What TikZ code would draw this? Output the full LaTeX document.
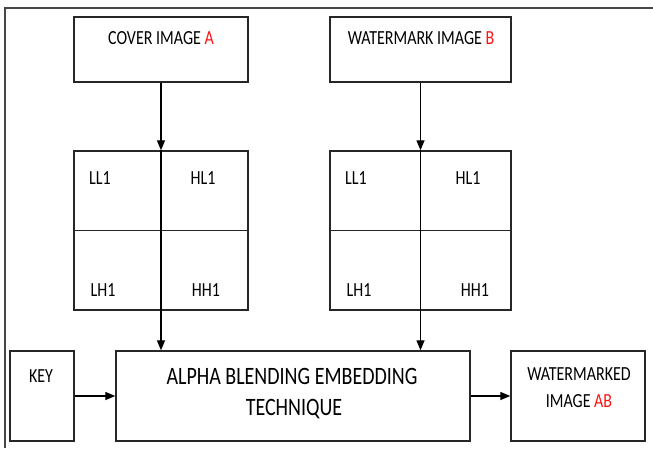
\documentclass[tikz,border=0pt]{standalone}
\usepackage{fontspec}
\setmainfont{Carlito}[FakeStretch=0.8]
\usepackage{xcolor}
\usetikzlibrary{arrows.meta,positioning}
\definecolor{framegray}{RGB}{70,70,70}
\definecolor{markred}{RGB}{250,20,20}

\begin{document}
\begin{tikzpicture}[x=1pt,y=-1pt,>={Triangle[length=10pt,width=8pt]},
                    box/.style={draw=black!85,line width=1.4pt,inner sep=0pt},
                    label text/.style={inner sep=0pt,font=\fontsize{20}{24}\selectfont}]
 \useasboundingbox (0,0) rectangle (653,448);

 % outer frame
 \draw[framegray,line width=1.5pt] (5,448) -- (5,8) -- (653,8);

 \node[box,minimum width=174pt,minimum height=65pt] (cover) at (161,49.5) {};
 \node[label text] (covertxt) at (161,38) {COVER IMAGE \textcolor{markred}{A}};

 \node[box,minimum width=181pt,minimum height=65pt] (mark) at (420.5,49.5) {};
 \node[label text] (marktxt) at (421,38) {WATERMARK IMAGE \textcolor{markred}{B}};

 % DWT sub-bands
 \node[box,minimum width=174pt,minimum height=159pt] (gridA) at (161,230.5) {};
 \node[box,minimum width=181pt,minimum height=159pt] (gridB) at (420.5,230.5) {};
 \draw[box] (gridA.west) -- (gridA.east);
 \draw[box] (gridB.west) -- (gridB.east);

 \node[label text] (llA) at (100,178) {LL1};
 \node[label text] (hlA) at (203,178) {HL1};
 \node[label text] (lhA) at (103,290) {LH1};
 \node[label text] (hhA) at (206,290) {HH1};

 \node[label text] (llB) at (356,178) {LL1};
 \node[label text] (hlB) at (468,178) {HL1};
 \node[label text] (lhB) at (359,290) {LH1};
 \node[label text] (hhB) at (475,290) {HH1};

 \node[box,minimum width=64pt,minimum height=90pt] (key) at (42,396) {};
 \node[label text] (keytxt) at (41,376) {KEY};

 \node[box,minimum width=354pt,minimum height=90pt] (alpha) at (293,396) {};
 \node[label text,font=\fontsize{25}{30}\selectfont] (alphatxt1) at (292,376) {ALPHA BLENDING EMBEDDING};
 \node[label text,font=\fontsize{25}{30}\selectfont] (alphatxt2) at (294,409) {TECHNIQUE};

 \node[box,minimum width=134pt,minimum height=90pt] (result) at (578,396) {};
 \node[label text] (resulttxt1) at (579,374) {WATERMARKED};
 \node[label text] (resulttxt2) at (579,401) {IMAGE \textcolor{markred}{AB}};

 \path[->,line width=1.3pt]
    (cover) edge (gridA)
    (mark) edge (gridB)
    (gridA.north) edge (gridA.north |- alpha.north)
    (gridB.north) edge (gridB.north |- alpha.north)
    (key) edge (alpha)
    (alpha) edge (result);

\end{tikzpicture}
\end{document}
